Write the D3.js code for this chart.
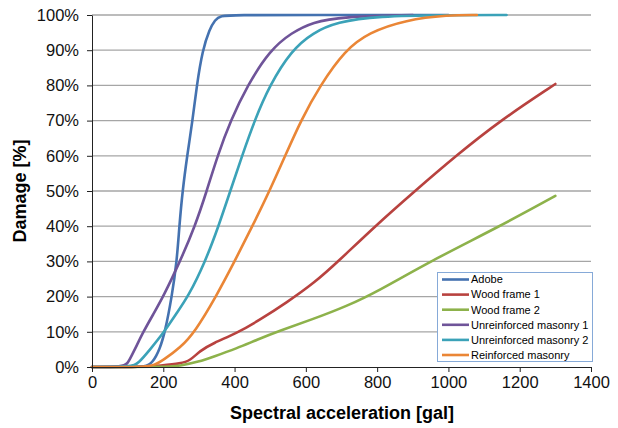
<!DOCTYPE html>
<meta charset="utf-8">
<title>Damage curves</title>
<style>
  body { margin: 0; background: #fff; }
  svg { font-family: "Liberation Sans", Arial, sans-serif; }
  .grid line { stroke: #a6a6a6; stroke-width: 1.3; }
  .axis path, .axis line { stroke: #222; stroke-width: 1; }
  .axis text { font-size: 16.5px; fill: #111; }
  .title { font-size: 18px; font-weight: bold; fill: #000; }
  .line { fill: none; stroke-width: 2.6; stroke-linejoin: round; stroke-linecap: round; }
  .legend text { font-size: 11px; fill: #000; }
</style>
<body>
<script src="https://d3js.org/d3.v7.min.js"></script>
<script>
// series: gal values and damage percentages
var adobeX = [0, 100, 150, 170, 190, 205, 224, 238, 245, 254, 267, 282, 294, 310, 330, 345, 360, 400, 600, 1000];
var adobeY = [0, 0, 0, 1.2, 5, 10, 20, 30, 40, 50, 60, 70, 80, 90, 96, 98.6, 99.8, 100, 100, 100];

var wood1X = [0, 150, 190, 250, 275, 303, 340, 406, 471, 546, 625, 691, 794, 906, 1021, 1145, 1300];
var wood1Y = [0, 0, 0.4, 1, 1.8, 4.6, 6.8, 9.6, 13.4, 18.3, 24, 30, 40, 50, 60, 70, 80.4];

var wood2X = [0, 200, 247, 300, 340, 406, 462, 527, 620, 715, 800, 948, 1145, 1300];
var wood2Y = [0, 0, 0.3, 1.5, 2.9, 5.3, 7.7, 10.3, 13.6, 17.3, 21.4, 30, 40, 48.6];

var urm1X = [0, 87, 100, 110, 125, 144, 172, 200, 247, 289, 322, 352, 389, 436, 499, 560, 620, 700, 900];
var urm1Y = [0, 0, 1, 3, 6, 10, 15, 20, 30, 40, 50, 60, 70, 80, 90, 95, 98, 99.5, 100];

var urm2X = [0, 110, 130, 163, 203, 235, 270, 318, 355, 388, 421, 456, 498, 560, 620, 687, 800, 1000, 1163];
var urm2Y = [0, 0, 1, 5, 10, 15, 20, 30, 40, 50, 60, 70, 80, 90, 95, 98, 99.7, 100, 100];

var rmX = [0, 150, 175, 200, 247, 289, 348, 400, 450, 498, 542, 586, 640, 710, 776, 880, 1000, 1080];
var rmY = [0, 0, 0.5, 2, 5.4, 10, 20, 30, 40, 50, 60, 70, 80, 90, 95, 98.6, 100, 100];

var names = ["Adobe", "Wood frame 1", "Wood frame 2", "Unreinforced masonry 1", "Unreinforced masonry 2", "Reinforced masonry"];
var colors = ["#4472b0", "#b8423f", "#8db24b", "#6f5499", "#3ba2b8", "#ea8636"];
var xTicks = [0, 200, 400, 600, 800, 1000, 1200, 1400];
var yTicks = [0, 10, 20, 30, 40, 50, 60, 70, 80, 90, 100];

var series = [
  [adobeX, adobeY], [wood1X, wood1Y], [wood2X, wood2Y],
  [urm1X, urm1Y], [urm2X, urm2Y], [rmX, rmY]
].map(function(s, i) {
  return { name: names[i], color: colors[i], pts: s[0].map(function(x, j) { return [x, s[1][j]]; }) };
});

var W = 618, H = 428;
var plotL = 92, plotR = 591, plotT = 15, plotB = 367;

var svg = d3.select("body").append("svg")
    .attr("width", W)
    .attr("height", H);

var x = d3.scaleLinear().domain([0, 1400]).range([plotL, plotR]);
var y = d3.scaleLinear().domain([0, 100]).range([plotB, plotT]);

svg.append("g")
    .attr("class", "grid")
    .selectAll("line")
    .data(yTicks.slice(1))
    .enter().append("line")
    .attr("x1", plotL).attr("x2", plotR)
    .attr("y1", function(d) { return y(d); })
    .attr("y2", function(d) { return y(d); });

var line = d3.line()
    .x(function(d) { return x(d[0]); })
    .y(function(d) { return y(d[1]); })
    .curve(d3.curveBasis);

// drawing order so later curves sit on top as in the original
var order = [1, 2, 0, 3, 4, 5];
svg.append("g")
    .selectAll("path")
    .data(order.map(function(i) { return series[i]; }))
    .enter().append("path")
    .attr("class", "line")
    .attr("stroke", function(d) { return d.color; })
    .attr("d", function(d) { return line(d.pts); });

svg.append("g")
    .attr("class", "axis")
    .attr("transform", "translate(" + plotL + ",0)")
    .call(d3.axisLeft(y).tickValues(yTicks).tickSize(5).tickSizeOuter(0)
      .tickFormat(function(d) { return d + "%"; }))
    .call(function(g) { g.selectAll("text").attr("x", -13); });

svg.append("g")
    .attr("class", "axis")
    .attr("transform", "translate(0," + plotB + ")")
    .call(d3.axisBottom(x).tickValues(xTicks).tickSize(5).tickSizeOuter(0)
      .tickFormat(d3.format("d")))
    .call(function(g) { g.selectAll("text").attr("y", 9); });

svg.append("text")
    .attr("class", "title")
    .attr("text-anchor", "middle")
    .attr("x", 342)
    .attr("y", 419)
    .text("Spectral acceleration [gal]");

svg.append("text")
    .attr("class", "title")
    .attr("text-anchor", "middle")
    .attr("transform", "translate(26,191) rotate(-90)")
    .text("Damage [%]");

// legend
var lg = svg.append("g").attr("class", "legend");
lg.append("rect")
    .attr("x", 437.5).attr("y", 272.5)
    .attr("width", 155).attr("height", 89)
    .attr("fill", "#fff")
    .attr("stroke", "#86aad8");

var item = lg.selectAll("g.item")
    .data(series)
    .enter().append("g")
    .attr("class", "item")
    .attr("transform", function(d, i) { return "translate(0," + (279.5 + i * 15.1) + ")"; });

item.append("line")
    .attr("x1", 442).attr("x2", 469)
    .attr("stroke", function(d) { return d.color; })
    .attr("stroke-width", 2.6);

item.append("text")
    .attr("x", 471)
    .attr("dy", "0.35em")
    .text(function(d) { return d.name; });
</script>
</body>
